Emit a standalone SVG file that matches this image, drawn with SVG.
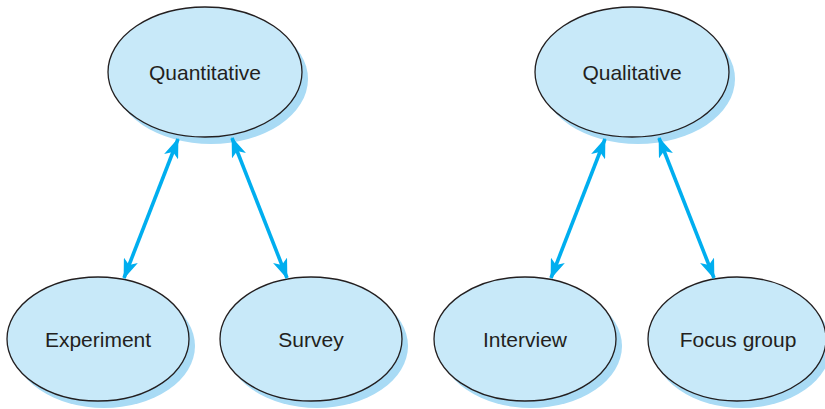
<svg xmlns="http://www.w3.org/2000/svg" width="825" height="409" viewBox="0 0 825 409">
<defs>
<style>
.sh{fill:#a9dbf5;stroke:none}
.el{fill:#c8e9f9;stroke:#231f20;stroke-width:1.3}
.t{font-family:"Liberation Sans",Arial,sans-serif;font-size:21px;fill:#231f20;text-anchor:middle}
.c{stroke:#00aeef;stroke-width:3.6;fill:none}
</style>
<marker id="ah" viewBox="0 0 20 15" refX="19" refY="7.5" markerWidth="20" markerHeight="15" markerUnits="userSpaceOnUse" orient="auto-start-reverse">
<path d="M0,0 L20,7.5 L0,15 L5,7.5 Z" fill="#00aeef"/>
</marker>
</defs>
<rect width="825" height="409" fill="#ffffff"/>
<g id="quantitative">
<ellipse class="sh" cx="211" cy="79" rx="97" ry="65"/>
<ellipse class="el" cx="205" cy="72" rx="97" ry="65"/>
<text class="t" x="205" y="80">Quantitative</text>
</g>
<g id="qualitative">
<ellipse class="sh" cx="638" cy="79" rx="97" ry="65"/>
<ellipse class="el" cx="632" cy="72" rx="97" ry="65"/>
<text class="t" x="632" y="80">Qualitative</text>
</g>
<g id="experiment">
<ellipse class="sh" cx="104" cy="346" rx="91" ry="62"/>
<ellipse class="el" cx="98" cy="339" rx="91" ry="62"/>
<text class="t" x="98" y="347">Experiment</text>
</g>
<g id="survey">
<ellipse class="sh" cx="317" cy="346" rx="91" ry="62"/>
<ellipse class="el" cx="311" cy="339" rx="91" ry="62"/>
<text class="t" x="311" y="347">Survey</text>
</g>
<g id="interview">
<ellipse class="sh" cx="531" cy="346" rx="91" ry="62"/>
<ellipse class="el" cx="525" cy="339" rx="91" ry="62"/>
<text class="t" x="525" y="347">Interview</text>
</g>
<g id="focus-group">
<ellipse class="sh" cx="742" cy="346" rx="89" ry="62"/>
<ellipse class="el" cx="737" cy="339" rx="89" ry="62"/>
<text class="t" x="738" y="347">Focus group</text>
</g>
<g id="connectors">
<line class="c" x1="178" y1="139" x2="124" y2="278" marker-start="url(#ah)" marker-end="url(#ah)"/>
<line class="c" x1="232" y1="138" x2="287" y2="278" marker-start="url(#ah)" marker-end="url(#ah)"/>
<line class="c" x1="605" y1="139" x2="551" y2="278" marker-start="url(#ah)" marker-end="url(#ah)"/>
<line class="c" x1="659" y1="138" x2="714" y2="278" marker-start="url(#ah)" marker-end="url(#ah)"/>
</g>
</svg>
